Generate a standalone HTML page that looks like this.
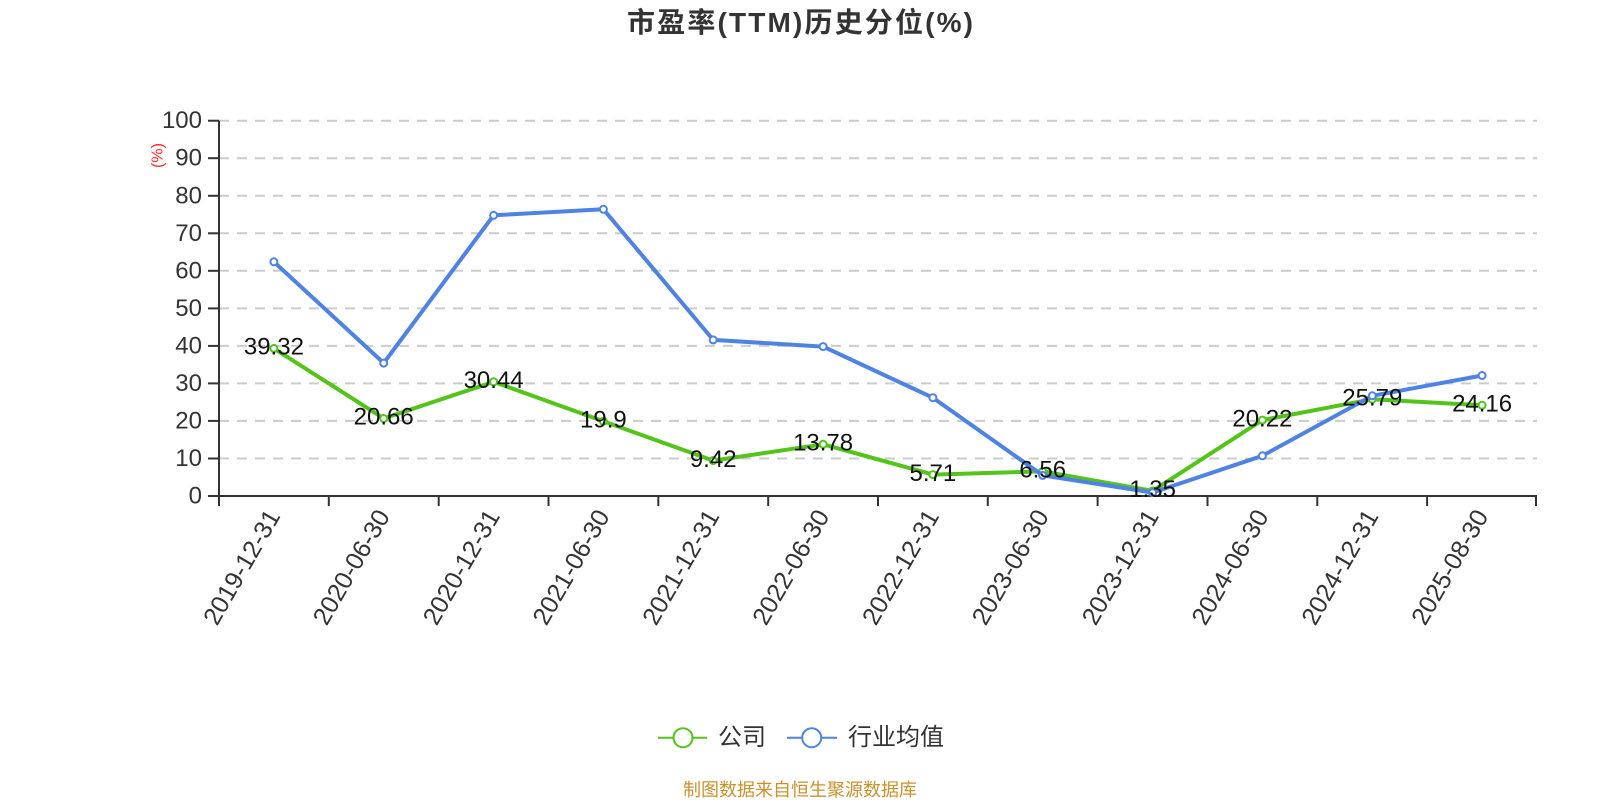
<!DOCTYPE html>
<html>
<head>
<meta charset="utf-8">
<style>
  html,body{margin:0;padding:0;background:#fff;}
  body{width:1600px;height:800px;overflow:hidden;}
  svg{display:block;}
  text{font-family:"Liberation Sans","Noto Sans CJK SC",sans-serif;}
</style>
</head>
<body>
<svg width="1600" height="800" viewBox="0 0 1600 800" xmlns="http://www.w3.org/2000/svg">
  <rect width="1600" height="800" fill="#fff"/>
  <!-- title -->
  <text x="627" y="32" font-size="28" font-weight="bold" fill="#333" textLength="346" lengthAdjust="spacing">市盈率(TTM)历史分位(%)</text>

  <!-- gridlines -->
  <g stroke="#cccccc" stroke-width="2" stroke-dasharray="10,8">
    <line x1="219" y1="458.5" x2="1537" y2="458.5"/>
    <line x1="219" y1="420.9" x2="1537" y2="420.9"/>
    <line x1="219" y1="383.4" x2="1537" y2="383.4"/>
    <line x1="219" y1="345.9" x2="1537" y2="345.9"/>
    <line x1="219" y1="308.4" x2="1537" y2="308.4"/>
    <line x1="219" y1="270.8" x2="1537" y2="270.8"/>
    <line x1="219" y1="233.3" x2="1537" y2="233.3"/>
    <line x1="219" y1="195.8" x2="1537" y2="195.8"/>
    <line x1="219" y1="158.2" x2="1537" y2="158.2"/>
    <line x1="219" y1="120.7" x2="1537" y2="120.7"/>
  </g>

  <!-- y axis -->
  <g stroke="#333" stroke-width="2">
    <line x1="219" y1="120.7" x2="219" y2="497"/>
    <line x1="208" y1="496" x2="219" y2="496"/>
    <line x1="208" y1="458.5" x2="219" y2="458.5"/>
    <line x1="208" y1="420.9" x2="219" y2="420.9"/>
    <line x1="208" y1="383.4" x2="219" y2="383.4"/>
    <line x1="208" y1="345.9" x2="219" y2="345.9"/>
    <line x1="208" y1="308.4" x2="219" y2="308.4"/>
    <line x1="208" y1="270.8" x2="219" y2="270.8"/>
    <line x1="208" y1="233.3" x2="219" y2="233.3"/>
    <line x1="208" y1="195.8" x2="219" y2="195.8"/>
    <line x1="208" y1="158.2" x2="219" y2="158.2"/>
    <line x1="208" y1="120.7" x2="219" y2="120.7"/>
  </g>
  <g font-size="24" fill="#333" text-anchor="end" dominant-baseline="central">
    <text x="202" y="496">0</text>
    <text x="202" y="458.5">10</text>
    <text x="202" y="420.9">20</text>
    <text x="202" y="383.4">30</text>
    <text x="202" y="345.9">40</text>
    <text x="202" y="308.4">50</text>
    <text x="202" y="270.8">60</text>
    <text x="202" y="233.3">70</text>
    <text x="202" y="195.8">80</text>
    <text x="202" y="158.2">90</text>
    <text x="202" y="120.7">100</text>
  </g>
  <text x="0" y="0" font-size="16" fill="#ff2a2a" text-anchor="middle" dominant-baseline="central" transform="translate(158,155.5) rotate(-90)">(%)</text>

  <!-- x axis -->
  <g stroke="#333" stroke-width="2">
    <line x1="218" y1="496" x2="1537" y2="496"/>
    <line x1="219" y1="496" x2="219" y2="506"/>
    <line x1="328.8" y1="496" x2="328.8" y2="506"/>
    <line x1="438.7" y1="496" x2="438.7" y2="506"/>
    <line x1="548.5" y1="496" x2="548.5" y2="506"/>
    <line x1="658.3" y1="496" x2="658.3" y2="506"/>
    <line x1="768.2" y1="496" x2="768.2" y2="506"/>
    <line x1="878" y1="496" x2="878" y2="506"/>
    <line x1="987.8" y1="496" x2="987.8" y2="506"/>
    <line x1="1097.6" y1="496" x2="1097.6" y2="506"/>
    <line x1="1207.5" y1="496" x2="1207.5" y2="506"/>
    <line x1="1317.3" y1="496" x2="1317.3" y2="506"/>
    <line x1="1427.1" y1="496" x2="1427.1" y2="506"/>
    <line x1="1536" y1="496" x2="1536" y2="506"/>
  </g>
  <g font-size="25" fill="#333" text-anchor="end" dominant-baseline="central">
    <text transform="translate(274,512) rotate(-60)">2019-12-31</text>
    <text transform="translate(383.7,512) rotate(-60)">2020-06-30</text>
    <text transform="translate(493.6,512) rotate(-60)">2020-12-31</text>
    <text transform="translate(603.4,512) rotate(-60)">2021-06-30</text>
    <text transform="translate(713.2,512) rotate(-60)">2021-12-31</text>
    <text transform="translate(823.1,512) rotate(-60)">2022-06-30</text>
    <text transform="translate(932.9,512) rotate(-60)">2022-12-31</text>
    <text transform="translate(1042.7,512) rotate(-60)">2023-06-30</text>
    <text transform="translate(1152.6,512) rotate(-60)">2023-12-31</text>
    <text transform="translate(1262.4,512) rotate(-60)">2024-06-30</text>
    <text transform="translate(1372.3,512) rotate(-60)">2024-12-31</text>
    <text transform="translate(1482.1,512) rotate(-60)">2025-08-30</text>
  </g>

  <!-- green series (company) -->
  <polyline fill="none" stroke="#52c41a" stroke-width="4" stroke-linejoin="round"
    points="273.9,348.4 383.7,418.5 493.6,381.8 603.4,421.3 713.2,460.6 823.1,444.3 932.9,474.6 1042.7,471.4 1152.6,490.9 1262.4,420.1 1372.3,399.2 1482.1,405.3"/>
  <g fill="#fff" stroke="#52c41a" stroke-width="2">
    <circle cx="273.9" cy="348.4" r="3.5"/>
    <circle cx="383.7" cy="418.5" r="3.5"/>
    <circle cx="493.6" cy="381.8" r="3.5"/>
    <circle cx="603.4" cy="421.3" r="3.5"/>
    <circle cx="713.2" cy="460.6" r="3.5"/>
    <circle cx="823.1" cy="444.3" r="3.5"/>
    <circle cx="932.9" cy="474.6" r="3.5"/>
    <circle cx="1042.7" cy="471.4" r="3.5"/>
    <circle cx="1152.6" cy="490.9" r="3.5"/>
    <circle cx="1262.4" cy="420.1" r="3.5"/>
    <circle cx="1372.3" cy="399.2" r="3.5"/>
    <circle cx="1482.1" cy="405.3" r="3.5"/>
  </g>

  <!-- blue series (industry avg) -->
  <polyline fill="none" stroke="#4e82e4" stroke-width="4" stroke-linejoin="round"
    points="273.9,261.8 383.7,363.1 493.6,215.3 603.4,209.3 713.2,339.9 823.1,346.6 932.9,397.7 1042.7,475.4 1152.6,492.6 1262.4,455.8 1372.3,395.8 1482.1,375.5"/>
  <g fill="#fff" stroke="#4e82e4" stroke-width="2">
    <circle cx="273.9" cy="261.8" r="3.5"/>
    <circle cx="383.7" cy="363.1" r="3.5"/>
    <circle cx="493.6" cy="215.3" r="3.5"/>
    <circle cx="603.4" cy="209.3" r="3.5"/>
    <circle cx="713.2" cy="339.9" r="3.5"/>
    <circle cx="823.1" cy="346.6" r="3.5"/>
    <circle cx="932.9" cy="397.7" r="3.5"/>
    <circle cx="1042.7" cy="475.4" r="3.5"/>
    <circle cx="1152.6" cy="492.6" r="3.5"/>
    <circle cx="1262.4" cy="455.8" r="3.5"/>
    <circle cx="1372.3" cy="395.8" r="3.5"/>
    <circle cx="1482.1" cy="375.5" r="3.5"/>
  </g>

  <!-- data labels -->
  <g font-size="24" fill="#111" text-anchor="middle" dominant-baseline="central">
    <text x="273.9" y="347">39.32</text>
    <text x="383.7" y="417">20.66</text>
    <text x="493.6" y="380.5">30.44</text>
    <text x="603.4" y="420">19.9</text>
    <text x="713.2" y="459.5">9.42</text>
    <text x="823.1" y="443">13.78</text>
    <text x="932.9" y="473.5">5.71</text>
    <text x="1042.7" y="470">6.56</text>
    <text x="1152.6" y="489.5">1.35</text>
    <text x="1262.4" y="419">20.22</text>
    <text x="1372.3" y="398">25.79</text>
    <text x="1482.1" y="404">24.16</text>
  </g>

  <!-- legend -->
  <line x1="658" y1="737.7" x2="707" y2="737.7" stroke="#52c41a" stroke-width="2"/>
  <circle cx="683" cy="737.7" r="9.5" fill="#fff" stroke="#52c41a" stroke-width="2"/>
  <text x="718" y="737.7" font-size="24" fill="#333" dominant-baseline="central">公司</text>
  <line x1="787" y1="737.7" x2="837" y2="737.7" stroke="#4e82e4" stroke-width="2"/>
  <circle cx="811.7" cy="737.7" r="9.5" fill="#fff" stroke="#4e82e4" stroke-width="2"/>
  <text x="848" y="737.7" font-size="24" fill="#333" dominant-baseline="central">行业均值</text>

  <!-- footer -->
  <text x="800" y="790" font-size="18" fill="#c8922f" text-anchor="middle" dominant-baseline="central">制图数据来自恒生聚源数据库</text>
</svg>
</body>
</html>
